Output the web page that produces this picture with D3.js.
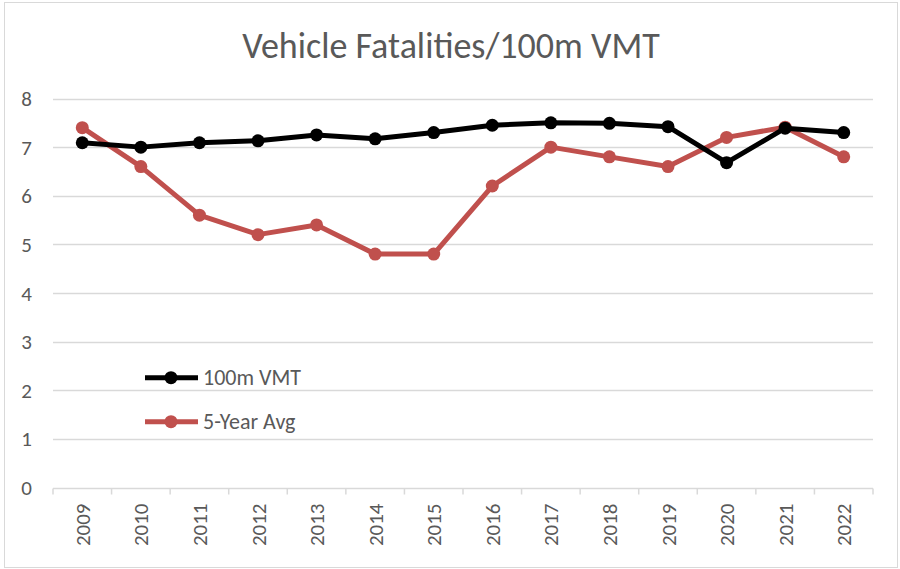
<!DOCTYPE html>
<html><head><meta charset="utf-8">
<script src="https://cdn.jsdelivr.net/npm/d3@7"></script>
<style>body{margin:0;background:#fff;} text{font-family:Carlito,Lato,"Open Sans",sans-serif;}</style>
</head><body><svg id="c" width="900" height="569"></svg>
<script>
const years = ["2009","2010","2011","2012","2013","2014","2015","2016","2017","2018","2019","2020","2021","2022"];
const vmt = [7.09,7.0,7.09,7.13,7.25,7.17,7.3,7.45,7.5,7.49,7.42,6.68,7.39,7.3];
const avg5 = [7.4,6.6,5.6,5.2,5.4,4.8,4.8,6.2,7.0,6.8,6.6,7.2,7.41,6.8];
const yTicks = [0,1,2,3,4,5,6,7,8];
const seriesNames = ["100m VMT","5-Year Avg"];
const colors = ["#000000","#C0504D"];

const svg = d3.select("#c");
svg.append("rect").attr("x",4.5).attr("y",2.5).attr("width",893).attr("height",565)
  .attr("fill","#fff").attr("stroke","#d9d9d9").attr("stroke-width",1);

const x = d3.scaleBand().domain(years).range([53,873]);
const y = d3.scaleLinear().domain([0,8]).range([487.5,98.5]);

svg.append("text").attr("x",451).attr("y",58).attr("text-anchor","middle")
  .attr("font-size",36).attr("fill","#595959").text("Vehicle Fatalities/100m VMT");

// gridlines
const g = svg.append("g");
g.selectAll("line.grid").data(yTicks.filter(d=>d>0)).enter().append("line")
  .attr("x1",53).attr("x2",873).attr("y1",d=>Math.round(y(d))+0.5).attr("y2",d=>Math.round(y(d))+0.5)
  .attr("stroke","#d9d9d9").attr("stroke-width",1.5);

// y labels
g.selectAll("text.yl").data(yTicks).enter().append("text")
  .attr("x",32).attr("y",d=>y(d)+7.5).attr("text-anchor","end")
  .attr("font-size",21).attr("fill","#595959").text(d=>d);

// x axis
const xa = svg.append("g").attr("transform","translate(0,"+(Math.round(y(0))+0.5)+")");
xa.append("line").attr("x1",53).attr("x2",873).attr("stroke","#d9d9d9").attr("stroke-width",1.5);
const bounds = years.map(d=>x(d)).concat([873]);
xa.selectAll("line.tk").data(bounds).enter().append("line")
  .attr("x1",d=>d).attr("x2",d=>d).attr("y1",0).attr("y2",6)
  .attr("stroke","#d9d9d9").attr("stroke-width",1.5);
xa.selectAll("text.xl").data(years).enter().append("text")
  .attr("transform",d=>"translate("+(x(d)+x.bandwidth()/2+7.5)+",15) rotate(-90)")
  .attr("text-anchor","end").attr("font-size",21).attr("fill","#595959").text(d=>d);

// lines
const cx = d=>x(d)+x.bandwidth()/2;
const line = d3.line().x((d,i)=>cx(years[i])).y(d=>y(d));
const order = [avg5, vmt];
const ocol = [colors[1], colors[0]];
order.forEach((s,k)=>{
  svg.append("path").datum(s).attr("d",line).attr("fill","none")
    .attr("stroke",ocol[k]).attr("stroke-width",5).attr("stroke-linejoin","round");
  svg.selectAll(null).data(s).enter().append("circle")
    .attr("cx",(d,i)=>cx(years[i])).attr("cy",d=>y(d)).attr("r",6.5).attr("fill",ocol[k]);
});

// legend
const lg = svg.append("g");
seriesNames.forEach((n,i)=>{
  const yy = 377.7 + i*44;
  lg.append("line").attr("x1",145).attr("x2",198).attr("y1",yy).attr("y2",yy)
    .attr("stroke",colors[i]).attr("stroke-width",5);
  lg.append("circle").attr("cx",171).attr("cy",yy).attr("r",6.5).attr("fill",colors[i]);
  lg.append("text").attr("x",203).attr("y",yy+7.5).attr("font-size",22).attr("fill","#595959").text(n);
});
</script></body></html>
